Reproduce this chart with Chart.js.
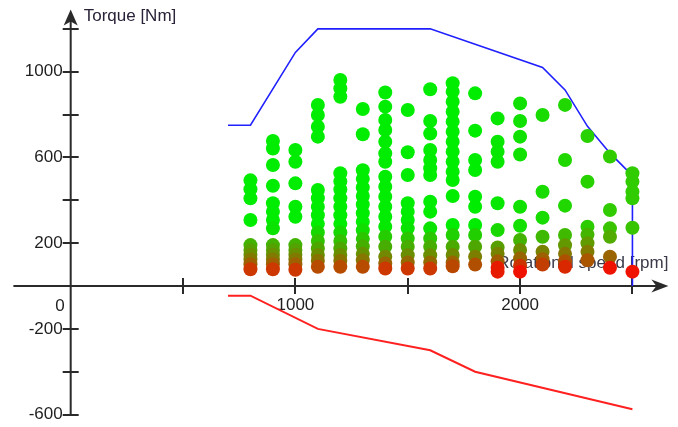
<!DOCTYPE html>
<html>
<head>
<meta charset="utf-8">
<title>Engine operating map</title>
<script src="https://cdn.jsdelivr.net/npm/chart.js@4/dist/chart.umd.min.js"></script>
<style>
  html, body { margin: 0; padding: 0; background: #ffffff; }
  #wrap { width: 678px; height: 427px; }
</style>
</head>
<body>
<div id="wrap"><canvas id="map" width="678" height="427"></canvas></div>
<script>
// Full-load torque curve (rpm / Nm)
const maxTorqueSpeed = [700, 800, 1000, 1100, 1600, 2100, 2200, 2300, 2400, 2500, 2500];
const maxTorque      = [750, 750, 1090, 1200, 1200, 1020, 915, 745, 620, 515, 0];

// Motoring (drag) torque curve (rpm / Nm)
const dragTorqueSpeed = [700, 800, 1100, 1600, 1800, 2500];
const dragTorque      = [-45, -45, -200, -300, -400, -575];

// Measured operating points: one torque list per engine speed
const pointSpeeds = [800, 900, 1000, 1100, 1200, 1300, 1400, 1500, 1600,
                     1700, 1800, 1900, 2000, 2100, 2200, 2300, 2400, 2500];
const pointTorques = [
  [493, 452, 409, 308, 191, 168, 146, 124, 102, 78],
  [677, 642, 565, 468, 386, 347, 308, 269, 191, 168, 146, 124, 102, 78],
  [635, 580, 479, 370, 323, 191, 168, 146, 124, 102, 76],
  [845, 798, 743, 697, 448, 410, 370, 330, 290, 250, 210, 175, 145, 118, 90],
  [961, 922, 883, 526, 488, 450, 410, 370, 330, 290, 250, 210, 175, 145, 118, 90],
  [826, 708, 540, 500, 460, 420, 380, 340, 300, 260, 220, 185, 150, 120, 90],
  [903, 837, 775, 728, 673, 619, 580, 510, 463, 417, 370, 323, 277, 230, 183, 137, 105, 82],
  [821, 624, 518, 386, 347, 308, 269, 222, 183, 144, 110, 82],
  [918, 770, 712, 635, 588, 550, 518, 393, 347, 269, 222, 183, 144, 110, 82],
  [946, 907, 860, 813, 767, 720, 673, 627, 580, 533, 495, 420, 285, 238, 183, 145, 110, 92],
  [899, 725, 588, 541, 417, 370, 285, 238, 183, 137, 100],
  [782, 673, 627, 580, 386, 261, 180, 150, 115, 85, 67],
  [852, 770, 697, 614, 370, 281, 215, 168, 129, 95, 67],
  [798, 440, 319, 230, 160, 125, 100],
  [845, 588, 375, 238, 190, 150, 115, 90],
  [700, 487, 277, 240, 200, 160, 120],
  [604, 355, 269, 230, 137, 85],
  [526, 487, 440, 409, 272, 67]
];

// Axis ticks and labels
const speedTicks  = [500, 1000, 1500, 2000, 2500];
const speedLabels = [1000, 2000];
const torqueTicks  = [-600, -400, -200, 200, 400, 600, 800, 1000, 1200];
const torqueLabels = [-600, -200, 200, 600, 1000];

// Build the scatter points
const operatingPoints = [];
pointSpeeds.forEach((rpm, i) => {
  pointTorques[i].forEach(nm => operatingPoints.push({ x: rpm, y: nm }));
});

function clamp(v, a, b) { return Math.max(a, Math.min(b, v)); }
function mix(a, b, t) { return a.map((c, k) => Math.round(c + (b[k] - c) * t)); }

// Low load runs red, higher load turns green; higher speeds shift the ends slightly
function pointColour(p) {
  const t = Math.pow(clamp((p.y - 85) / 200, 0, 1), 0.6);
  const red = mix([205, 55, 0], [240, 18, 0], clamp((p.x - 1600) / 400, 0, 1));
  const green = mix([0, 236, 0], [48, 204, 0], clamp((p.x - 1800) / 600, 0, 1));
  const c = mix(red, green, t);
  return `rgb(${c[0]},${c[1]},${c[2]})`;
}

const AXIS_COLOUR = '#2a2a2a';
const FONT = '17px "Liberation Sans", Arial, sans-serif';

// Draws axes crossing at the origin, with arrowheads, ticks and titles
const crossAxes = {
  id: 'crossAxes',
  beforeDatasetsDraw(chart) {
    const { ctx, scales: { x, y } } = chart;
    const x0 = x.getPixelForValue(0);
    const y0 = y.getPixelForValue(0);
    const xStart = x.getPixelForValue(-255);
    const xTip = x.getPixelForValue(2660);
    const yTop = y.getPixelForValue(1290);
    const yBottom = y.getPixelForValue(-600);

    ctx.save();
    ctx.strokeStyle = AXIS_COLOUR;
    ctx.fillStyle = AXIS_COLOUR;
    ctx.lineWidth = 2;

    // axis lines
    ctx.beginPath();
    ctx.moveTo(xStart, y0); ctx.lineTo(xTip - 6, y0);
    ctx.moveTo(x0, yBottom); ctx.lineTo(x0, yTop + 6);
    ctx.stroke();

    // arrowheads
    ctx.beginPath();
    ctx.moveTo(xTip, y0);
    ctx.lineTo(xTip - 17, y0 - 6.5);
    ctx.lineTo(xTip - 12, y0);
    ctx.lineTo(xTip - 17, y0 + 6.5);
    ctx.closePath();
    ctx.fill();
    ctx.beginPath();
    ctx.moveTo(x0, yTop);
    ctx.lineTo(x0 - 7, yTop + 16);
    ctx.lineTo(x0, yTop + 12);
    ctx.lineTo(x0 + 7, yTop + 16);
    ctx.closePath();
    ctx.fill();

    // tick marks
    ctx.lineWidth = 2;
    ctx.beginPath();
    speedTicks.forEach(v => {
      const px = Math.round(x.getPixelForValue(v));
      ctx.moveTo(px, y0 - 8); ctx.lineTo(px, y0 + 8);
    });
    torqueTicks.forEach(v => {
      const py = Math.round(y.getPixelForValue(v));
      ctx.moveTo(x0 - 8, py); ctx.lineTo(x0 + 8, py);
    });
    ctx.stroke();

    // tick labels
    ctx.font = FONT;
    ctx.fillStyle = '#1e1e1e';
    ctx.textBaseline = 'middle';
    ctx.textAlign = 'center';
    speedLabels.forEach(v => ctx.fillText(String(v), x.getPixelForValue(v), y0 + 19));
    ctx.textAlign = 'right';
    torqueLabels.forEach(v => ctx.fillText(String(v), x0 - 8, y.getPixelForValue(v)));
    ctx.fillText('0', x0 - 6, y0 + 20);

    // axis titles
    ctx.textAlign = 'left';
    ctx.fillStyle = '#2a2238';
    ctx.fillText('Torque [Nm]', x0 + 13, yTop + 7);
    ctx.textAlign = 'right';
    ctx.fillStyle = '#3a3a4a';
    ctx.fillText('Rotational speed [rpm]', xTip, y0 - 23);
    ctx.restore();
  }
};

new Chart(document.getElementById('map'), {
  type: 'scatter',
  data: {
    datasets: [
      {
        label: 'Operating points',
        data: operatingPoints,
        backgroundColor: operatingPoints.map(pointColour),
        borderWidth: 0,
        pointRadius: 7,
        pointHoverRadius: 7,
        order: 0
      },
      {
        label: 'Full load',
        data: maxTorqueSpeed.map((v, i) => ({ x: v, y: maxTorque[i] })),
        showLine: true,
        borderColor: '#2020ff',
        borderWidth: 1.6,
        pointRadius: 0,
        tension: 0,
        order: 1
      },
      {
        label: 'Drag',
        data: dragTorqueSpeed.map((v, i) => ({ x: v, y: dragTorque[i] })),
        showLine: true,
        borderColor: '#ff2020',
        borderWidth: 2,
        pointRadius: 0,
        tension: 0,
        order: 1
      }
    ]
  },
  options: {
    responsive: false,
    animation: false,
    clip: false,
    layout: { padding: 0, autoPadding: false },
    plugins: { legend: { display: false }, tooltip: { enabled: false } },
    scales: {
      x: { type: 'linear', min: -314.6, max: 2702.8, display: false },
      y: { type: 'linear', min: -657.9, max: 1334.6, display: false }
    }
  },
  plugins: [crossAxes]
});
</script>
</body>
</html>
